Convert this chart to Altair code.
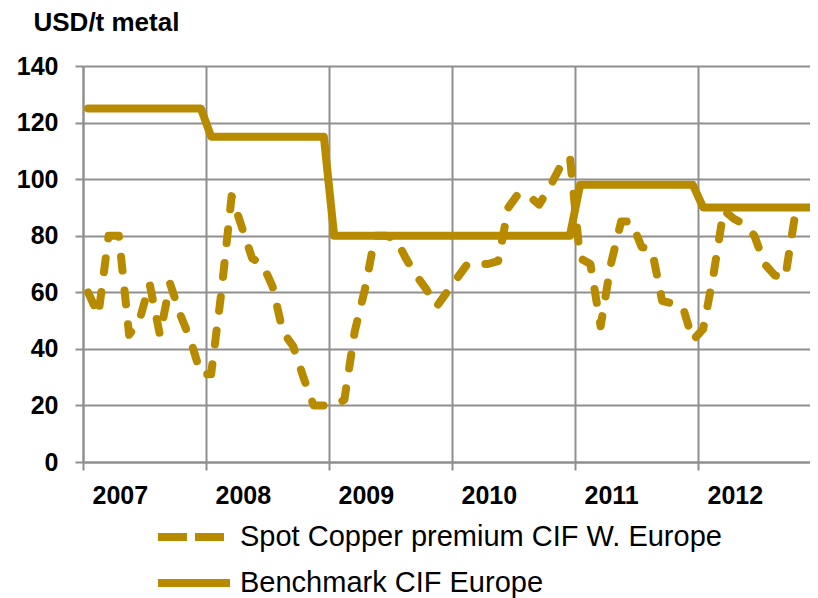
import altair as alt
import pandas as pd

GOLD = "#B78A00"
GRID = "#8f8f8f"

year_labels = ["2007", "2008", "2009", "2010", "2011", "2012"]
series_names = ["Spot Copper premium CIF W. Europe", "Benchmark CIF Europe"]

# monthly values, Jan 2007 onwards (USD/t metal)
spot = [60, 52, 80, 80, 45, 50, 63, 45, 63, 52, 43, 31,
        31, 60, 94, 83, 72, 70, 62, 46, 41, 30, 20, 20,
        20, 22, 46, 61, 80, 80, 79, 72, 66, 61, 55, 60,
        65, 70, 70, 70, 71, 90, 95, 94, 91, 97, 104, 108,
        72, 70, 48, 70, 85, 85, 76, 75, 57, 56, 55, 43,
        47, 66, 89, 86, 84, 80, 70, 66, 65, 88]
benchmark = [125, 125, 125, 125, 125, 125, 125, 125, 125, 125, 125, 125,
             115, 115, 115, 115, 115, 115, 115, 115, 115, 115, 115, 115,
             80, 80, 80, 80, 80, 80, 80, 80, 80, 80, 80, 80,
             80, 80, 80, 80, 80, 80, 80, 80, 80, 80, 80, 80,
             98, 98, 98, 98, 98, 98, 98, 98, 98, 98, 98, 98,
             90, 90, 90, 90, 90, 90, 90, 90, 90, 90, 90, 90]

rows = []
for i, v in enumerate(spot):
    rows.append({"series": series_names[0], "month": i + 0.5, "value": v})
for i, v in enumerate(benchmark):
    rows.append({"series": series_names[1], "month": i + 0.5, "value": v})
df = pd.DataFrame(rows)

PLOT_W = 727
x = alt.X(
    "month:Q",
    scale=alt.Scale(domain=[0, PLOT_W / 10.25], nice=False, zero=False),
    axis=alt.Axis(
        values=[0, 12, 24, 36, 48, 60],
        labelExpr="'' + (2007 + round(datum.value / 12))",
        title=None,
        grid=True,
        labelAlign="left",
        labelOffset=9,
        labelBaseline="alphabetic",
        labelPadding=33,
        tickSize=8,
        labelFlush=False,
        labelOverlap=False,
    ),
)
y = alt.Y(
    "value:Q",
    scale=alt.Scale(domain=[0, 140], nice=False, zero=True),
    axis=alt.Axis(
        values=[0, 20, 40, 60, 80, 100, 120, 140],
        title="USD/t metal",
        titleAngle=0,
        titleX=-50,
        titleY=-36,
        titleAlign="left",
        titleBaseline="alphabetic",
        titleFontSize=26,
        titleFontWeight="bold",
        titleFont="Liberation Sans",
        titleColor="black",
        labelPadding=17,
        tickSize=8,
        grid=True,
    ),
)

base = alt.Chart(df)

legend_layer = base.transform_filter("false").mark_line(color=GOLD, strokeWidth=8).encode(
    x=x,
    y=y,
    strokeDash=alt.StrokeDash(
        "series:N",
        scale=alt.Scale(domain=series_names, range=[[29, 8], [1, 0]]),
        legend=alt.Legend(
            orient="none",
            legendX=71,
            legendY=453,
            title=None,
            symbolType="stroke",
            symbolSize=5184,
            symbolStrokeWidth=8,
            symbolStrokeColor=GOLD,
            labelFont="Liberation Sans",
            labelFontSize=29,
            labelColor="black",
            labelOffset=6,
            labelLimit=700,
            clipHeight=36,
            rowPadding=10,
            padding=0,
        ),
    ),
)

spot_layer = base.transform_filter(alt.datum.series == series_names[0]).mark_line(
    color=GOLD, strokeWidth=8, strokeDash=[14, 20], strokeCap="round", strokeJoin="round",
    clip=True,
).encode(x=x, y=y)

bench_layer = base.transform_filter(alt.datum.series == series_names[1]).mark_line(
    color=GOLD, strokeWidth=8, strokeCap="round", strokeJoin="round", clip=True
).encode(x=x, y=y)

chart = (
    alt.layer(legend_layer, spot_layer, bench_layer)
    .properties(
        width=PLOT_W,
        height=396,
        autosize=alt.AutoSizeParams(type="none"),
        padding={"left": 75, "top": 58, "right": 0, "bottom": 136},
        background="white",
    )
    .configure_view(stroke=None)
    .configure_axis(
        domainColor=GRID,
        domainWidth=2,
        gridColor=GRID,
        gridWidth=2,
        tickColor=GRID,
        tickWidth=2,
        labelFont="Liberation Sans",
        labelFontSize=25,
        labelFontWeight="bold",
        labelColor="black",
    )
)

chart.save("out.html", embed_options={"renderer": "svg", "actions": False})
